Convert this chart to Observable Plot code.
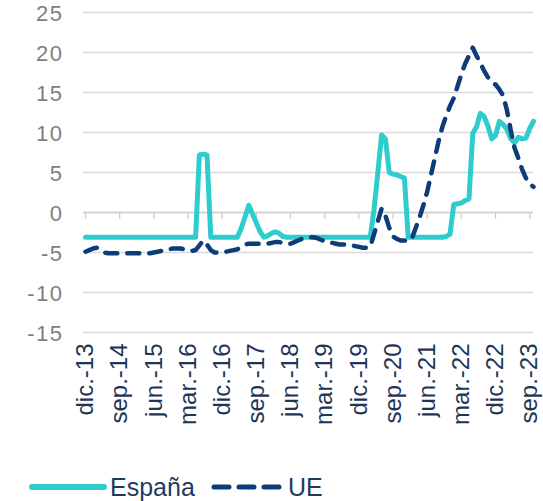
<!DOCTYPE html>
<html><head><meta charset="utf-8">
<script src="https://cdn.jsdelivr.net/npm/d3@7"></script>
<script src="https://cdn.jsdelivr.net/npm/@observablehq/plot@0.6"></script>
<style>
body{margin:0;background:#fff;font-family:"Liberation Sans",Arial,sans-serif;}
#wrap{position:relative;width:543px;height:501px;overflow:hidden;}
#chart{position:absolute;left:0;top:0;}
#legend{position:absolute;left:0;top:465px;width:543px;height:36px;}
#legend span{position:absolute;font-size:25px;color:#1f3a5f;line-height:1;}
g[aria-label="y-axis tick label"] text{letter-spacing:1.5px;}
</style></head><body>
<div id="wrap"><div id="chart"></div><div id="legend"></div></div>
<script>
// Monthly series, starting dic.-13 (index 0) through oct.-23 (index 118)
const tickLabels = ["dic.-13","sep.-14","jun.-15","mar.-16","dic.-16","sep.-17","jun.-18","mar.-19","dic.-19","sep.-20","jun.-21","mar.-22","dic.-22","sep.-23"];
const monthsPerTick = 9;
const yTicks = [-15,-10,-5,0,5,10,15,20,25];
const seriesNames = ["España","UE"];

const espana = [
 -3.1,-3.1,-3.1,-3.1,-3.1,-3.1,-3.1,-3.1,-3.1,-3.1,
 -3.1,-3.1,-3.1,-3.1,-3.1,-3.1,-3.1,-3.1,-3.1,-3.1,
 -3.1,-3.1,-3.1,-3.1,-3.1,-3.1,-3.1,-3.1,-3.1,-3.1,
 7.2,7.3,7.2,
 -3.1,-3.1,-3.1,-3.1,-3.1,-3.1,-3.1,-3.1,
 -2.0,-0.6,0.9,-0.2,-1.3,-2.4,-3.1,
 -2.9,-2.6,-2.4,-2.6,-3.0,
 -3.1,-3.1,-3.1,-3.1,-3.1,-3.1,-3.1,-3.1,-3.1,-3.1,
 -3.1,-3.1,-3.1,-3.1,-3.1,-3.1,-3.1,-3.1,-3.1,-3.1,
 -3.1,-3.1,-3.1,
 0.4,5.0,9.7,9.2,5.0,4.8,4.7,4.5,4.3,
 -3.1,-3.1,-3.1,-3.1,-3.1,-3.1,-3.1,-3.1,-3.1,-3.1,
 -3.0,-2.7,1.0,1.1,1.2,1.5,1.7,9.9,10.7,12.4,
 12.0,10.8,9.2,9.6,11.4,11.0,10.4,9.2,8.7,9.4,
 9.2,9.3,10.5,11.4
];

const ue = [
 -4.9,-4.7,-4.5,-4.4,-4.7,-5.0,-5.1,-5.1,-5.1,-5.1,
 -5.1,-5.1,-5.1,-5.1,-5.1,-5.1,-5.1,-5.1,-5.0,-4.9,
 -4.8,-4.7,-4.6,-4.5,-4.5,-4.5,-4.6,-4.7,-4.8,-4.7,
 -4.1,-3.5,-4.0,-4.7,-5.0,-5.0,-4.9,-4.9,-4.8,-4.7,
 -4.6,-4.3,-4.0,-3.9,-3.9,-3.9,-3.9,-3.9,-3.9,-3.8,
 -3.7,-3.7,-3.8,-3.9,-3.9,-3.7,-3.5,-3.3,-3.2,-3.1,
 -3.1,-3.2,-3.4,-3.6,-3.7,-3.8,-3.9,-4.0,-4.0,-4.0,
 -4.1,-4.2,-4.3,-4.4,-4.4,-4.3,-2.7,-1.1,0.5,-0.4,
 -1.9,-3.0,-3.3,-3.5,-3.5,-3.6,-3.2,-1.9,-0.6,0.9,
 2.6,4.7,6.8,8.9,10.7,12.1,13.3,14.3,15.8,17.3,
 18.6,19.6,20.6,19.6,18.7,17.7,16.9,16.3,16.0,15.4,
 14.6,12.8,10.3,8.1,6.8,5.4,4.3,3.6,3.2
];

const colors = {"España":"#2ecccc","UE":"#0c3d7a"};
const tickPos = tickLabels.map((_, k) => k * monthsPerTick);
const rows = [];
espana.forEach((v, i) => rows.push({serie: "España", i, v}));
ue.forEach((v, i) => rows.push({serie: "UE", i, v}));

const chart = Plot.plot({
  width: 543, height: 467,
  marginTop: 12, marginBottom: 135, marginLeft: 85, marginRight: 10,
  style: {fontFamily: "'Liberation Sans', Arial, sans-serif", background: "transparent", overflow: "visible"},
  x: {domain: [0, espana.length - 1], axis: null},
  y: {domain: [-15, 25], axis: null},
  marks: [
    Plot.gridY(yTicks, {stroke: "#d9d9d9", strokeOpacity: 1, strokeWidth: 1.3, insetLeft: -2}),
    Plot.axisY(yTicks, {tickSize: 0, tickPadding: 22, fontSize: 22, dy: 1, fill: "#7f7f7f", label: null,
      tickFormat: d => String(d)}),
    Plot.ruleY([0], {stroke: "#cfcfcf", strokeWidth: 1.3, insetLeft: -2}),
    Plot.ruleX(tickPos, {x: d => d, y1: 0, y2: 0, insetBottom: -7, stroke: "#cfcfcf", strokeWidth: 1.3}),
    Plot.axisX(tickPos, {tickSize: 0, tickRotate: -90, tickPadding: 11, fontSize: 24, fill: "#1e3557",
      tickFormat: d => tickLabels[d / monthsPerTick], label: null}),
    Plot.line(rows.filter(d => d.serie === "España"), {x: "i", y: "v", stroke: colors["España"], strokeWidth: 5, strokeLinejoin: "round", strokeLinecap: "round"}),
    Plot.line(rows.filter(d => d.serie === "UE"), {x: "i", y: "v", stroke: colors["UE"], strokeWidth: 4.5, strokeDasharray: "12,10", strokeLinejoin: "round", strokeLinecap: "round"})
  ]
});
document.getElementById("chart").appendChild(chart);

// Legend below the SVG
const lg = document.getElementById("legend");
const ns = "http://www.w3.org/2000/svg";
const sw = document.createElementNS(ns, "svg");
sw.setAttribute("width", 543); sw.setAttribute("height", 36);
sw.style.position = "absolute"; sw.style.left = "0"; sw.style.top = "0";
const l1 = document.createElementNS(ns, "line");
Object.entries({x1: 32, x2: 104, y1: 22, y2: 22, stroke: colors["España"], "stroke-width": 6, "stroke-linecap": "round"}).forEach(([k, v]) => l1.setAttribute(k, v));
const l2 = document.createElementNS(ns, "line");
Object.entries({x1: 214, x2: 279, y1: 22, y2: 22, stroke: colors["UE"], "stroke-width": 5, "stroke-linecap": "round", "stroke-dasharray": "15,10"}).forEach(([k, v]) => l2.setAttribute(k, v));
sw.appendChild(l1); sw.appendChild(l2);
lg.appendChild(sw);
[[seriesNames[0], 110], [seriesNames[1], 288]].forEach(([t, x]) => {
  const s = document.createElement("span");
  s.textContent = t; s.style.left = x + "px"; s.style.top = "10px";
  lg.appendChild(s);
});
</script>
</body></html>
